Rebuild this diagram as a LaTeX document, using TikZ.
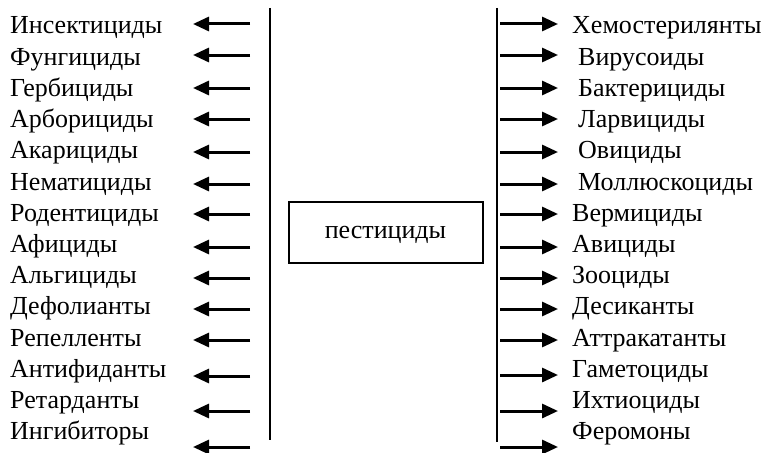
\documentclass[tikz,border=0pt]{standalone}
\usepackage{fontspec}
\setmainfont{Liberation Serif}
\usetikzlibrary{arrows.meta}
\tikzset{
  lbl/.style={anchor=base west, inner sep=0pt, font=\fontsize{26}{26}\selectfont},
  arr/.style={line width=3pt, -{Triangle[length=16pt,width=14pt]}},
  bar/.style={line width=2.6pt},
}
\begin{document}
\begin{tikzpicture}[x=1pt,y=-1pt]
  \useasboundingbox (0,0) rectangle (767,452);
  % two vertical bars
  \coordinate (ltop) at (270,8);
  \coordinate (lbot) at (270,440);
  \coordinate (rtop) at (497,8);
  \coordinate (rbot) at (497,442);
  \draw[bar] (ltop) -- (lbot);
  \draw[bar] (rtop) -- (rbot);
  \node[draw, line width=2pt, minimum width=194pt, minimum height=61pt,
        text height=12pt, text depth=0pt,
        font=\fontsize{26}{26}\selectfont] (pest) at (385.5,232.5) {пестициды};
  % left side
  \foreach \name/\ay [count=\i from 0] in {Инсектициды/24, Фунгициды/55,
      Гербициды/88, Арборициды/119, Акарициды/152, Нематициды/184,
      Родентициды/214, Афициды/247, Альгициды/278, Дефолианты/309,
      Репелленты/340, Антифиданты/376, Ретарданты/411, Ингибиторы/447}{
    \node[lbl] (l\i) at (10,34+31.2*\i) {\name};
    \coordinate (lt\i) at (250,\ay);
    \coordinate (lh\i) at (193,\ay);
    \draw[arr] (lt\i) -- (lh\i);
  }
  % right side
  \foreach \name/\dx/\ay [count=\i from 0] in {Хемостерилянты/0/24,
      Вирусоиды/6/55, Бактерициды/6/88, Ларвициды/6/119, Овициды/6/152,
      Моллюскоциды/6/184, Вермициды/0/214, Авициды/0/247, Зооциды/0/278,
      Десиканты/0/309, Аттракатанты/0/340, Гаметоциды/0/375,
      Ихтиоциды/0/411, Феромоны/0/447}{
    \node[lbl] (r\i) at (572+\dx,34+31.2*\i) {\name};
    \coordinate (rt\i) at (500,\ay);
    \coordinate (rh\i) at (558,\ay);
    \draw[arr] (rt\i) -- (rh\i);
  }
\end{tikzpicture}
\end{document}
